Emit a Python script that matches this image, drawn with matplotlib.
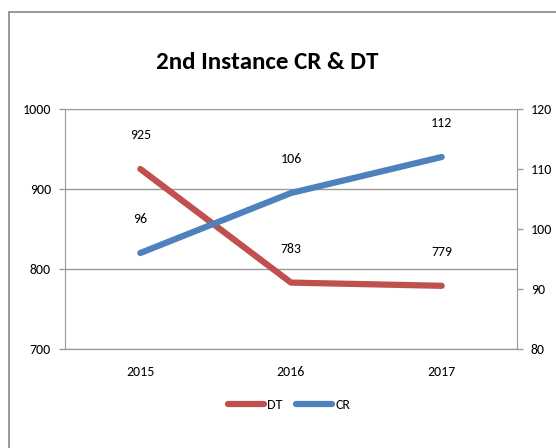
import matplotlib.pyplot as plt
from matplotlib.patches import Rectangle

years = ['2015', '2016', '2017']
dt_values = [925, 783, 779]
cr_values = [96, 106, 112]

plt.rcParams['font.family'] = ['Carlito', 'DejaVu Sans']

RED = '#C0504D'
BLUE = '#4F81BD'

fig = plt.figure(figsize=(5.56, 4.48), dpi=100)
# outer chart border (runs off the right and bottom edges)
fig.patches.append(Rectangle((9 / 556, -0.05), 1.0, 1 - 12 / 448 + 0.05,
                             transform=fig.transFigure, fill=False,
                             edgecolor='#888888', linewidth=1.2))

ax = fig.add_axes([65 / 556, 1 - 349 / 448, 452 / 556, 240 / 448])
ax2 = ax.twinx()

x = list(range(len(years)))
ax.plot(x, dt_values, color=RED, linewidth=4.5, solid_capstyle='round',
        solid_joinstyle='round', label='DT', zorder=3)
ax2.plot(x, cr_values, color=BLUE, linewidth=4.5, solid_capstyle='round',
         solid_joinstyle='round', label='CR', zorder=3)

for xi, v in zip(x, dt_values):
    ax.annotate(str(v), (xi, v), xytext=(0, 20), textcoords='offset points',
                ha='center', va='bottom', fontsize=10)
for xi, v in zip(x, cr_values):
    ax2.annotate(str(v), (xi, v), xytext=(0, 20), textcoords='offset points',
                 ha='center', va='bottom', fontsize=10)

ax.set_xlim(-0.5, 2.5)
ax.set_ylim(700, 1000)
ax.set_yticks([700, 800, 900, 1000])
ax2.set_ylim(80, 120)
ax2.set_yticks([80, 90, 100, 110, 120])
ax.set_xticks(x)
ax.set_xticklabels(years)
ax.grid(axis='y', color='#999999', linewidth=1)
ax.set_axisbelow(True)

for a in (ax, ax2):
    a.spines['top'].set_visible(False)
    a.tick_params(labelsize=10, length=4, color='#999999', width=1)
    for s in a.spines.values():
        s.set_color('#999999')
ax.spines['right'].set_visible(False)
ax2.spines['left'].set_visible(False)
ax.tick_params(axis='x', length=0, pad=12)
ax.tick_params(axis='y', pad=6)
ax2.tick_params(axis='y', pad=6)

fig.text(267 / 556, 1 - 62 / 448, '2nd Instance CR & DT', ha='center',
         va='center', fontsize=18, fontweight='bold')

h1, l1 = ax.get_legend_handles_labels()
h2, l2 = ax2.get_legend_handles_labels()
fig.legend(h1 + h2, l1 + l2, loc='center', bbox_to_anchor=(289 / 556, 1 - 405 / 448),
           ncol=2, frameon=False, fontsize=10, handlelength=2.6, handletextpad=0.2,
           columnspacing=1.0)

fig.savefig('out.png', dpi=100)
